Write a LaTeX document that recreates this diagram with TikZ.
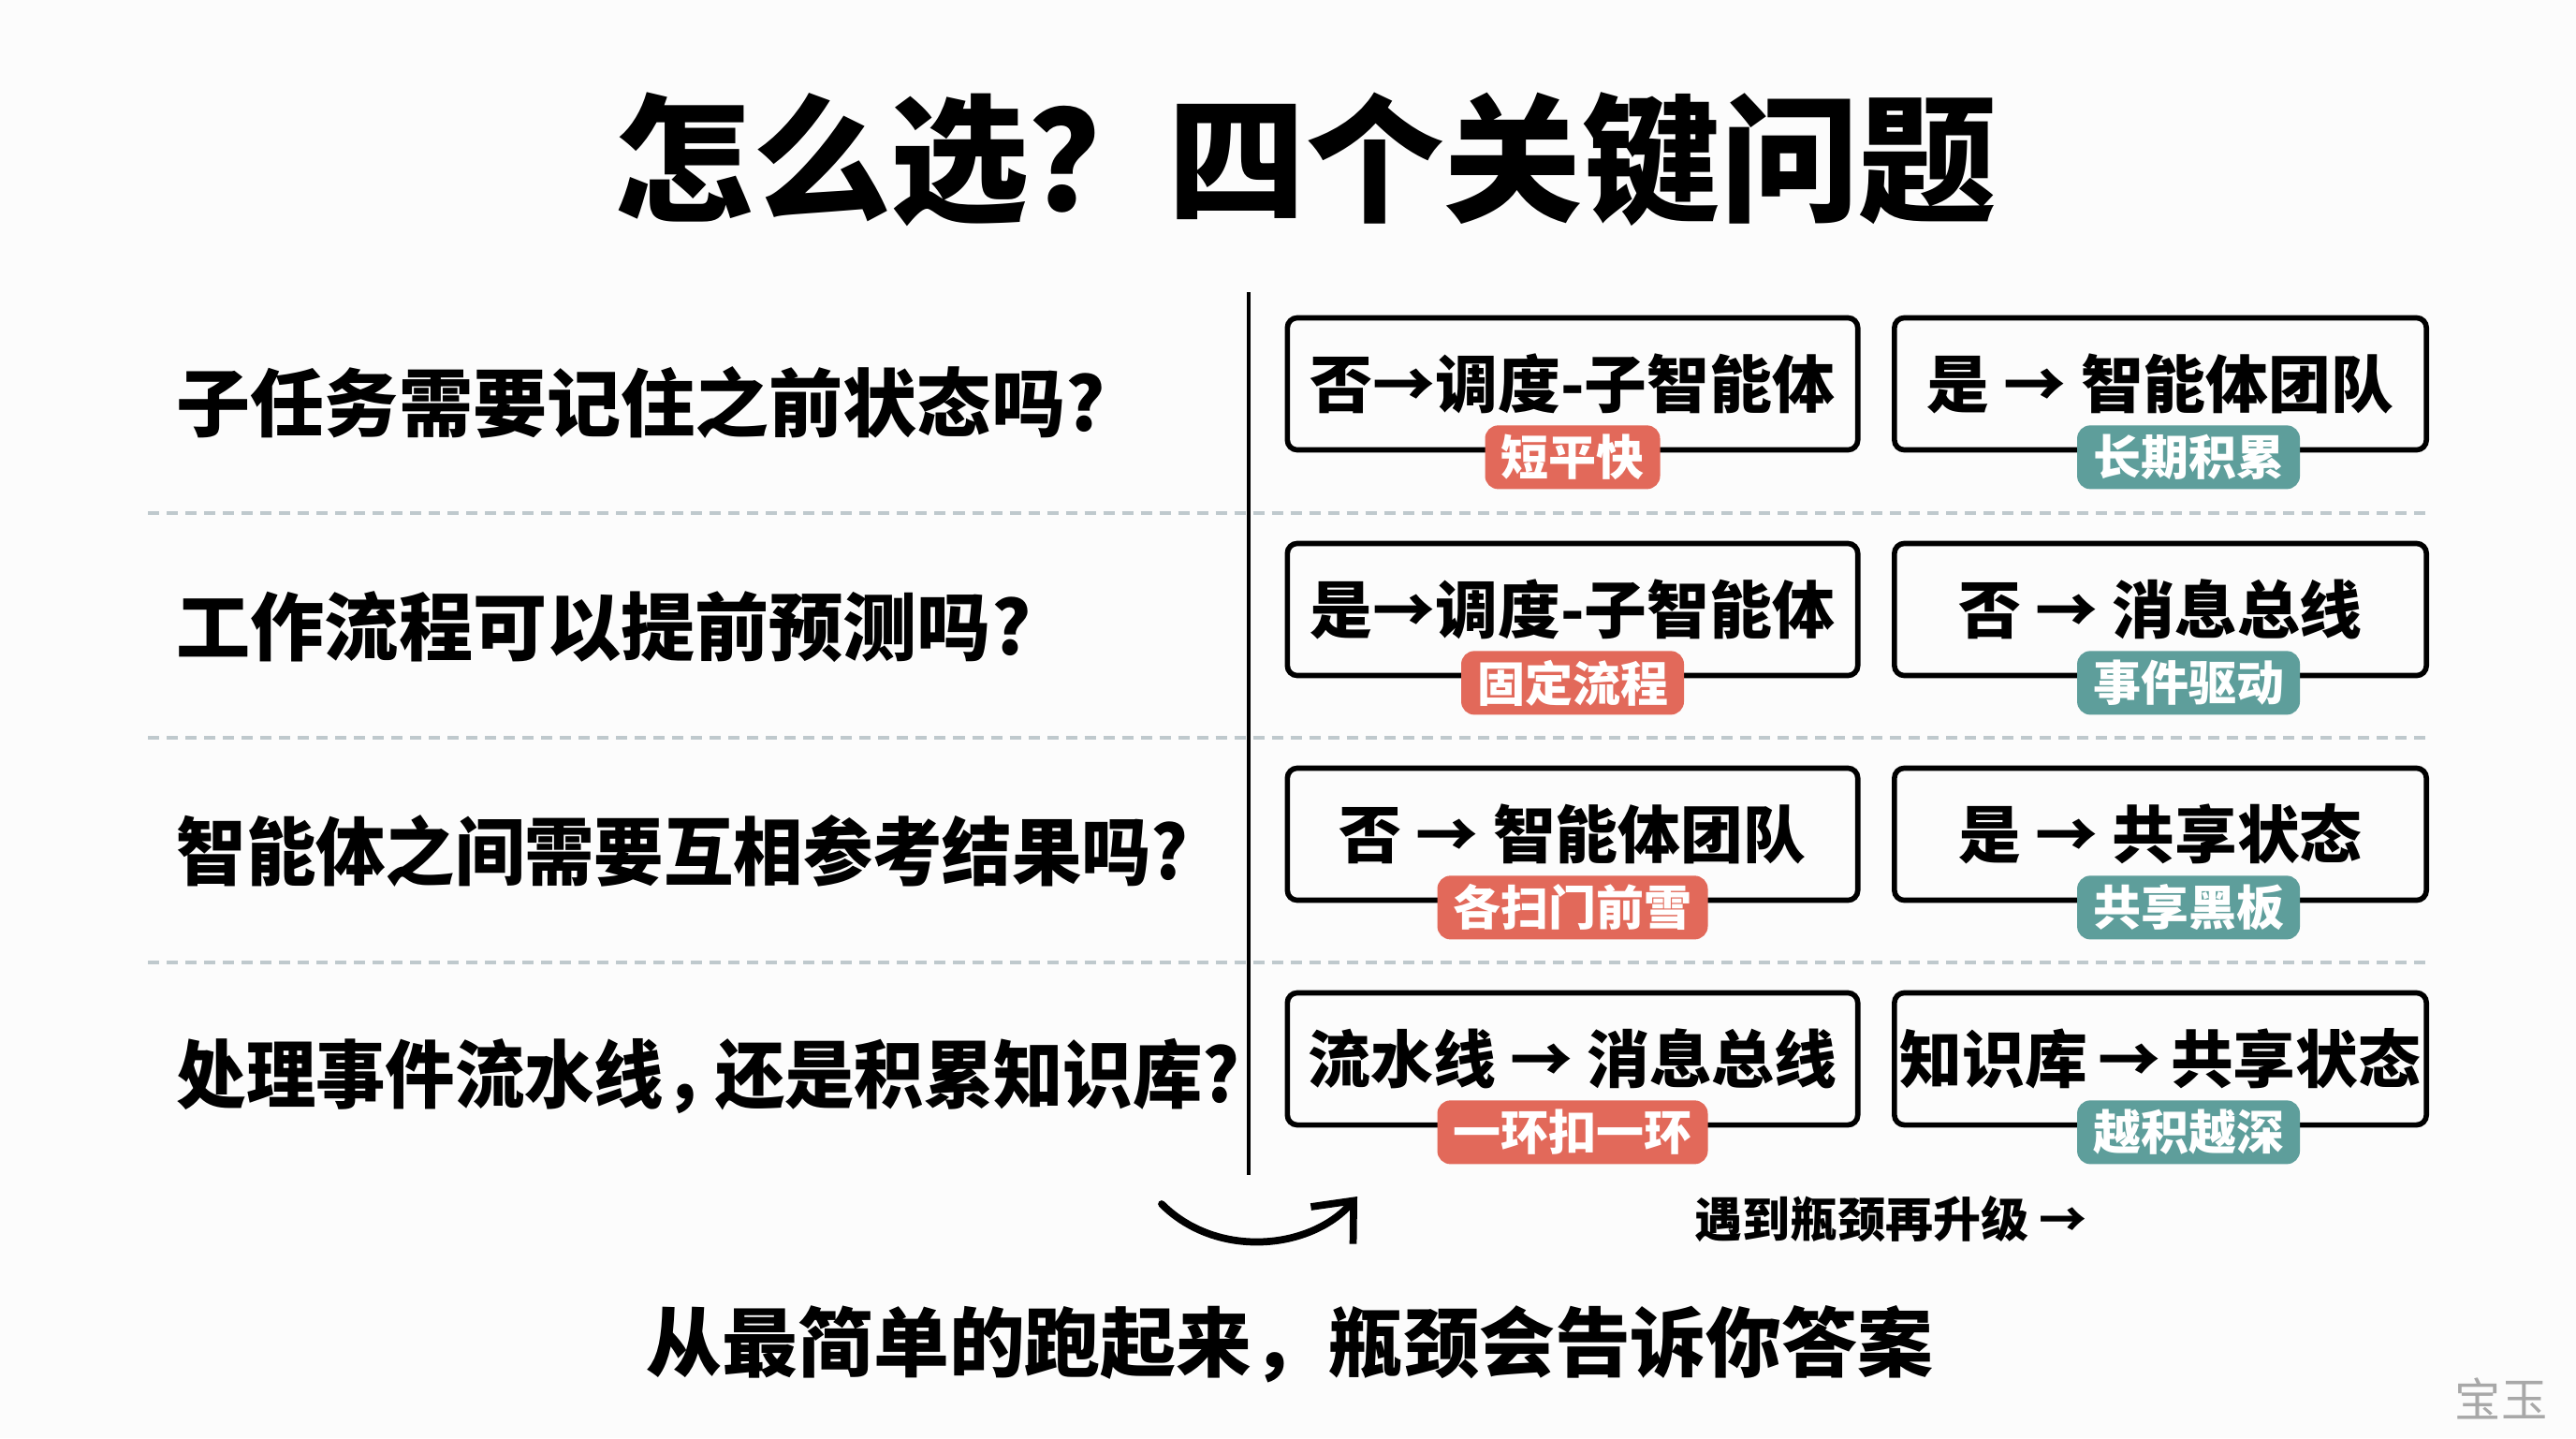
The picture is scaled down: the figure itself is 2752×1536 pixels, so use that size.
\documentclass[tikz,border=0pt]{standalone}
\usepackage{fontspec}
\setmainfont{Noto Sans CJK SC}
\newfontfamily\condensed{Noto Sans CJK SC}[FakeStretch=0.94]
\usepackage{xcolor}
\usetikzlibrary{positioning,arrows.meta}
\definecolor{tagred}{HTML}{E2695A}
\definecolor{tagteal}{HTML}{5E9E9B}
\definecolor{rulegray}{HTML}{BFC9CD}
\definecolor{markgray}{HTML}{A8A8A8}
\definecolor{paper}{HTML}{FCFCFC}

\begin{document}
\begin{tikzpicture}[x=0.01cm, y=-0.01cm, >={Straight Barb[length=3.5mm, width=6mm]}]
    \tikzset{
        choice/.style={draw, line width=1.6pt, rounded corners=3pt, minimum height=1.41cm, inner sep=0pt, font=\bfseries\fontsize{19}{19}\selectfont},
        leftbox/.style={choice, minimum width=6.09cm},
        rightbox/.style={choice, minimum width=5.68cm},
        tag/.style={rounded corners=4pt, minimum height=0.68cm, inner xsep=0.17cm, inner ysep=0pt, text=white, font=\bfseries\fontsize{14.5}{14.5}\selectfont},
        redtag/.style={tag, fill=tagred},
        tealtag/.style={tag, fill=tagteal},
        question/.style={anchor=west, inner xsep=0pt, font=\bfseries\fontsize{22.5}{22.5}\selectfont},
        longquestion/.style={question, font=\condensed\bfseries\fontsize{22.5}{22.5}\selectfont},
        divider/.style={rulegray, line width=1pt, dash pattern=on 0.12cm off 0.08cm}
    }

    \fill[paper] (0,0) rectangle (2752,1536);
    \useasboundingbox (0,0) rectangle (2752,1536);

    \node[font=\bfseries\fontsize{42}{42}\selectfont] (title) at (1395,170) {怎么选？四个关键问题};

    % row rules
    \foreach \y in {548,788,1028} {
        \draw[divider] (158,\y) -- (2594,\y);
    }
    \coordinate (ruletop) at (1334,312);
    \coordinate (rulebot) at (1334,1255);
    \draw[line width=1.1pt] (ruletop) -- (rulebot);

    \node[question] (q1) at (188,430) {子任务需要记住之前状态吗?};
    \node[question] (q2) at (188,670) {工作流程可以提前预测吗?};
    \node[longquestion] (q3) at (188,909) {智能体之间需要互相参考结果吗?};
    \node[longquestion] (q4) at (188,1150) {处理事件流水线，\kern-0.25em 还是积累知识库?};

    \node[leftbox] (no1) at (1680,410) {否→调度-子智能体};
    \node[rightbox] (yes1) at (2308,410) {是 → 智能体团队};
    \node[leftbox] (yes2) at (1680,651) {是→调度-子智能体};
    \node[rightbox] (no2) at (2308,651) {否 → 消息总线};
    \node[leftbox] (no3) at (1680,891) {否 → 智能体团队};
    \node[rightbox] (yes3) at (2308,891) {是 → 共享状态};
    \node[leftbox] (pipe4) at (1680,1131) {流水线 → 消息总线};
    \node[rightbox] (know4) at (2308,1131) {知识库\,→\,共享状态};

    \node[redtag] (t1) at ([yshift=-0.05cm]no1.south) {短平快};
    \node[tealtag] (u1) at ([xshift=0.3cm, yshift=-0.05cm]yes1.south) {长期积累};
    \node[redtag] (t2) at ([yshift=-0.05cm]yes2.south) {固定流程};
    \node[tealtag] (u2) at ([xshift=0.3cm, yshift=-0.05cm]no2.south) {事件驱动};
    \node[redtag] (t3) at ([yshift=-0.05cm]no3.south) {各扫门前雪};
    \node[tealtag] (u3) at ([xshift=0.3cm, yshift=-0.05cm]yes3.south) {共享黑板};
    \node[redtag] (t4) at ([yshift=-0.05cm]pipe4.south) {一环扣一环};
    \node[tealtag] (u4) at ([xshift=0.3cm, yshift=-0.05cm]know4.south) {越积越深};

    % upgrade hint
    \coordinate (arcstart) at (1241,1286);
    \coordinate (arcend) at (1450,1278);
    \draw[->, line width=2.2pt, line cap=round] (arcstart) .. controls (1300,1345) and (1400,1335) .. (arcend);
    \node[font=\bfseries\fontsize{14.5}{14.5}\selectfont] (hint) at (2020,1302) {遇到瓶颈再升级 →};

    \node[font=\bfseries\fontsize{23}{23}\selectfont] (motto) at (1378,1436) {从最简单的跑起来，瓶颈会告诉你答案};
    \node[text=markgray, font=\fontsize{14}{14}\selectfont] (mark) at (2672,1494) {宝玉};
\end{tikzpicture}
\end{document}
